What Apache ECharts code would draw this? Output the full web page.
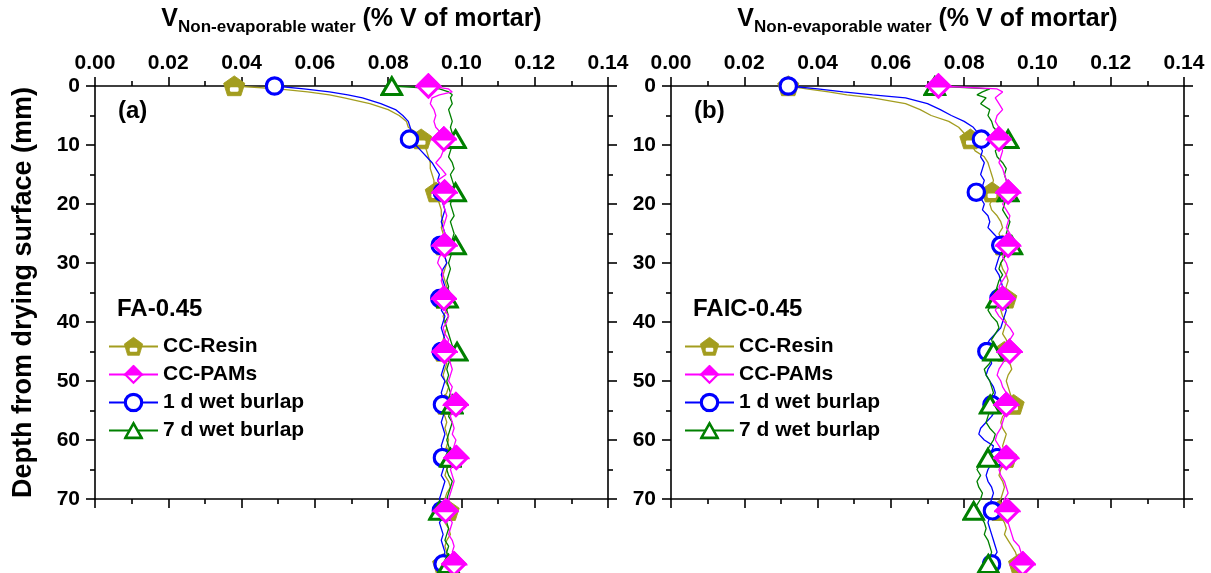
<!DOCTYPE html>
<html>
<head>
<meta charset="utf-8">
<script src="https://cdn.jsdelivr.net/npm/echarts@6/dist/echarts.min.js"></script>
<style>
  html, body { margin: 0; padding: 0; background: #fff; }
  #chart { width: 1211px; height: 573px; }
</style>
</head>
<body>
<div id="chart"></div>
<script>
// depth from drying surface (mm), shared by all profiles
const depth = [0, 0.5, 1, 1.5, 2,
  3, 4, 5, 6, 7, 8, 9,
  10, 11, 12, 13, 14, 15, 16, 17, 18,
  19, 20, 21, 22, 23, 24, 25, 26, 27,
  28, 29, 30, 31, 32, 33, 34, 35, 36,
  37, 38, 39, 40, 41, 42, 43, 44, 45,
  46, 47, 48, 49, 50, 51, 52, 53, 54,
  55, 56, 57, 58, 59, 60, 61, 62, 63,
  64, 65, 66, 67, 68, 69, 70, 71, 72,
  73, 74, 75, 76, 77, 78, 79, 80, 81];
// depths that carry a symbol
const markerDepth = [0, 9, 18, 27, 36, 45, 54, 63, 72, 81];

const seriesNames = ['CC-Resin', 'CC-PAMs', '1 d wet burlap', '7 d wet burlap'];
const panelLabels = ['(a)', '(b)'];
const mixLabels = ['FA-0.45', 'FAIC-0.45'];

// (a) FA-0.45
const resinA = [0.038, 0.050, 0.058, 0.064, 0.068,
  0.075, 0.080, 0.083, 0.085, 0.0855, 0.088, 0.089,
  0.090, 0.0905, 0.091, 0.0915, 0.0915, 0.092, 0.0925, 0.0925, 0.093,
  0.0935, 0.094, 0.0945, 0.0945, 0.095, 0.0945, 0.095, 0.0955, 0.095,
  0.0945, 0.0955, 0.096, 0.0955, 0.095, 0.0955, 0.096, 0.0955, 0.095,
  0.0955, 0.096, 0.095, 0.0955, 0.096, 0.0955, 0.095, 0.0955, 0.095,
  0.0955, 0.096, 0.0955, 0.095, 0.0955, 0.0965, 0.096, 0.095, 0.0955,
  0.0945, 0.0955, 0.096, 0.0955, 0.096, 0.0965, 0.096, 0.0955, 0.096,
  0.0965, 0.096, 0.0955, 0.0965, 0.097, 0.096, 0.0955, 0.096, 0.0965,
  0.096, 0.0955, 0.0965, 0.097, 0.096, 0.0955, 0.096, 0.0955, 0.095];
const pamsA = [0.091, 0.0965, 0.0975, 0.094, 0.092,
  0.0915, 0.0925, 0.093, 0.0925, 0.093, 0.0945, 0.0952,
  0.0965, 0.095, 0.0944, 0.093, 0.0945, 0.0958, 0.0935, 0.0945, 0.0954,
  0.0955, 0.095, 0.0955, 0.096, 0.0955, 0.095, 0.0955, 0.096, 0.0954,
  0.095, 0.094, 0.0935, 0.0945, 0.095, 0.0945, 0.095, 0.0955, 0.0952,
  0.095, 0.0955, 0.0965, 0.096, 0.095, 0.0955, 0.0965, 0.096, 0.0954,
  0.0965, 0.097, 0.0975, 0.097, 0.0965, 0.0975, 0.097, 0.0975, 0.0985,
  0.0975, 0.097, 0.0975, 0.098, 0.0975, 0.0985, 0.098, 0.0975, 0.0986,
  0.098, 0.097, 0.0975, 0.098, 0.0975, 0.097, 0.0965, 0.097, 0.0957,
  0.0965, 0.0975, 0.097, 0.0965, 0.0975, 0.098, 0.0975, 0.0985, 0.098];
const wet1A = [0.049, 0.057, 0.064, 0.069, 0.073,
  0.078, 0.082, 0.084, 0.0855, 0.086, 0.0865, 0.0858,
  0.0875, 0.089, 0.0905, 0.092, 0.093, 0.094, 0.0935, 0.0945, 0.0948,
  0.0945, 0.095, 0.0955, 0.095, 0.0945, 0.095, 0.0955, 0.095, 0.0942,
  0.095, 0.0955, 0.096, 0.095, 0.0945, 0.095, 0.0955, 0.095, 0.0941,
  0.095, 0.0945, 0.0955, 0.095, 0.0945, 0.095, 0.0955, 0.095, 0.0945,
  0.095, 0.0955, 0.095, 0.0945, 0.0955, 0.095, 0.0945, 0.095, 0.0948,
  0.0955, 0.095, 0.0945, 0.095, 0.0955, 0.095, 0.0945, 0.095, 0.0948,
  0.0955, 0.095, 0.0945, 0.0955, 0.095, 0.0945, 0.094, 0.0945, 0.0945,
  0.095, 0.094, 0.0945, 0.095, 0.0945, 0.095, 0.0955, 0.095, 0.095];
const wet7A = [0.081, 0.094, 0.0965, 0.0975, 0.097,
  0.0975, 0.0965, 0.097, 0.0975, 0.097, 0.0975, 0.0984,
  0.0975, 0.097, 0.0965, 0.0975, 0.098, 0.097, 0.0975, 0.098, 0.0984,
  0.0975, 0.097, 0.0975, 0.098, 0.097, 0.0975, 0.098, 0.0975, 0.0984,
  0.0975, 0.097, 0.0965, 0.097, 0.0965, 0.096, 0.0965, 0.096, 0.0962,
  0.0965, 0.096, 0.0965, 0.0955, 0.096, 0.0965, 0.097, 0.0975, 0.0988,
  0.0975, 0.0965, 0.096, 0.0965, 0.096, 0.0965, 0.097, 0.0965, 0.0975,
  0.097, 0.0965, 0.0975, 0.097, 0.0965, 0.096, 0.0965, 0.097, 0.097,
  0.0965, 0.096, 0.0965, 0.0975, 0.097, 0.0965, 0.096, 0.0955, 0.094,
  0.0955, 0.096, 0.0965, 0.096, 0.0955, 0.0965, 0.096, 0.0965, 0.0965];

// (b) FAIC-0.45
const resinB = [0.032, 0.037, 0.043, 0.048, 0.055,
  0.064, 0.068, 0.071, 0.0758, 0.0785, 0.080, 0.0817,
  0.082, 0.083, 0.0855, 0.0865, 0.087, 0.0875, 0.088, 0.0875, 0.0876,
  0.088, 0.087, 0.0875, 0.089, 0.090, 0.0905, 0.0895, 0.090, 0.0905,
  0.0915, 0.091, 0.090, 0.0905, 0.0915, 0.092, 0.0915, 0.091, 0.0915,
  0.0905, 0.090, 0.0905, 0.0915, 0.091, 0.0905, 0.0915, 0.092, 0.091,
  0.0915, 0.0925, 0.093, 0.092, 0.0915, 0.092, 0.0925, 0.093, 0.0935,
  0.092, 0.0905, 0.090, 0.0905, 0.0915, 0.091, 0.0905, 0.091, 0.0915,
  0.091, 0.090, 0.0895, 0.0905, 0.091, 0.0905, 0.090, 0.089, 0.0895,
  0.090, 0.091, 0.0915, 0.091, 0.092, 0.093, 0.094, 0.0945, 0.095];
const pamsB = [0.073, 0.089, 0.0905, 0.0895, 0.0885,
  0.0895, 0.0905, 0.089, 0.0885, 0.0895, 0.090, 0.0895,
  0.090, 0.0905, 0.090, 0.0895, 0.0905, 0.091, 0.0915, 0.092, 0.092,
  0.0915, 0.0905, 0.0915, 0.0925, 0.092, 0.0915, 0.0925, 0.093, 0.092,
  0.091, 0.0905, 0.0915, 0.092, 0.0915, 0.0905, 0.0895, 0.090, 0.0905,
  0.0895, 0.0885, 0.0895, 0.091, 0.0925, 0.0935, 0.0925, 0.091, 0.0924,
  0.0915, 0.0905, 0.0895, 0.089, 0.090, 0.0905, 0.0915, 0.0905, 0.0915,
  0.092, 0.091, 0.0905, 0.090, 0.089, 0.0885, 0.0895, 0.0905, 0.0915,
  0.0905, 0.0895, 0.090, 0.091, 0.0915, 0.092, 0.091, 0.0905, 0.0918,
  0.0915, 0.092, 0.0925, 0.093, 0.0935, 0.095, 0.0955, 0.096, 0.096];
const wet1B = [0.032, 0.040, 0.047, 0.055, 0.064,
  0.070, 0.0735, 0.0765, 0.080, 0.0825, 0.0838, 0.0847,
  0.084, 0.085, 0.0845, 0.0855, 0.085, 0.0845, 0.0855, 0.085, 0.0833,
  0.0845, 0.0855, 0.085, 0.0865, 0.087, 0.0865, 0.088, 0.0895, 0.090,
  0.0905, 0.0895, 0.089, 0.0885, 0.0895, 0.090, 0.0905, 0.090, 0.0895,
  0.0905, 0.0915, 0.091, 0.0905, 0.090, 0.0885, 0.087, 0.086, 0.0862,
  0.087, 0.0875, 0.0865, 0.086, 0.087, 0.088, 0.0885, 0.088, 0.0876,
  0.0885, 0.0875, 0.086, 0.0845, 0.084, 0.0855, 0.088, 0.0875, 0.089,
  0.0875, 0.0865, 0.086, 0.0865, 0.0875, 0.088, 0.0875, 0.087, 0.0877,
  0.087, 0.0865, 0.087, 0.0875, 0.088, 0.0885, 0.089, 0.088, 0.0875];
const wet7B = [0.072, 0.087, 0.085, 0.0835, 0.086,
  0.0845, 0.087, 0.0865, 0.0875, 0.088, 0.0895, 0.092,
  0.090, 0.0885, 0.089, 0.0905, 0.0915, 0.091, 0.0915, 0.092, 0.092,
  0.0915, 0.091, 0.0905, 0.0915, 0.0925, 0.092, 0.0915, 0.0925, 0.093,
  0.092, 0.091, 0.090, 0.0895, 0.0905, 0.0895, 0.089, 0.0885, 0.089,
  0.0875, 0.0865, 0.0875, 0.089, 0.0895, 0.0885, 0.0875, 0.088, 0.088,
  0.0875, 0.087, 0.0855, 0.086, 0.087, 0.0875, 0.088, 0.087, 0.0871,
  0.087, 0.0865, 0.086, 0.087, 0.0885, 0.088, 0.087, 0.086, 0.0865,
  0.0845, 0.0835, 0.0845, 0.0835, 0.084, 0.085, 0.0845, 0.0835, 0.0826,
  0.0845, 0.0855, 0.086, 0.0855, 0.0865, 0.087, 0.0875, 0.087, 0.0866];

const OLIVE = '#A39D1F';
const MAGENTA = '#FF00FF';
const BLUE = '#0000FF';
const GREEN = '#008000';
const FONT = 'Liberation Sans, Arial, sans-serif';

// markers drawn as small inline svg images (two-colour fills, thick outlines)
const svgSymbol = s => 'image://data:image/svg+xml;charset=utf-8,' + encodeURIComponent(s);
const SVG_HEAD = '<svg xmlns="http://www.w3.org/2000/svg" width="60" height="60" viewBox="0 0 100 100">';
const pentagon = svgSymbol(SVG_HEAD +
  '<path d="M50 4 L96 38 L79 94 L21 94 L4 38 Z" fill="' + OLIVE + '" stroke="' + OLIVE + '" stroke-width="4" stroke-linejoin="round"/>' +
  '<rect x="31" y="56" width="38" height="20" rx="5" fill="#fff"/></svg>');
const halfDiamond = svgSymbol(SVG_HEAD +
  '<path d="M50 9 L91 50 L50 91 L9 50 Z" fill="#fff" stroke="' + MAGENTA + '" stroke-width="11"/>' +
  '<path d="M50 9 L91 50 L9 50 Z" fill="' + MAGENTA + '" stroke="' + MAGENTA + '" stroke-width="11"/></svg>');
const openCircle = svgSymbol(SVG_HEAD +
  '<circle cx="50" cy="50" r="41" fill="#fff" stroke="' + BLUE + '" stroke-width="16"/></svg>');
const openTriangle = svgSymbol(SVG_HEAD +
  '<path d="M50 14 L91 87 L9 87 Z" fill="#fff" stroke="' + GREEN + '" stroke-width="13" stroke-linejoin="miter" stroke-miterlimit="4"/></svg>');

function points(vals) {
  return vals.map((v, i) => {
    const item = { value: [v, depth[i]] };
    if (markerDepth.indexOf(depth[i]) < 0) item.symbol = 'none';
    return item;
  });
}

function curve(name, vals, panel, color, symbol, size, z) {
  return {
    type: 'line',
    name: name,
    xAxisIndex: panel * 2,
    yAxisIndex: panel * 2,
    data: points(vals),
    symbol: symbol,
    symbolSize: size,
    showAllSymbol: true,
    clip: false,
    z: z,
    lineStyle: { color: color, width: 1.3 },
    itemStyle: { color: color },
    emphasis: { disabled: true }
  };
}

const gridLeft = [95, 671];
const gridWidth = 513;
const gridTop = 86;
const gridHeight = 413;

const lineStyle = { color: '#000', width: 1.6 };
const labelStyle = { fontFamily: FONT, fontWeight: 'bold', fontSize: 21, color: '#000' };

function xAxis(grid, pos) {
  return {
    type: 'value', gridIndex: grid, position: pos,
    min: 0, max: 0.14, interval: 0.02,
    axisLine: { show: true, onZero: false, lineStyle: lineStyle },
    axisTick: { show: true, inside: false, length: 9, lineStyle: lineStyle },
    minorTick: { show: true, splitNumber: 2, length: 5, lineStyle: lineStyle },
    splitLine: { show: false },
    axisLabel: pos === 'top'
      ? Object.assign({ show: true, margin: 12, formatter: v => v.toFixed(2), hideOverlap: false }, labelStyle)
      : { show: false }
  };
}

function yAxis(grid, pos) {
  const ax = {
    type: 'value', gridIndex: grid, position: pos,
    min: 0, max: 70, interval: 10, inverse: true,
    axisLine: { show: true, onZero: false, lineStyle: lineStyle },
    axisTick: { show: true, inside: false, length: 9, lineStyle: lineStyle },
    minorTick: { show: true, splitNumber: 2, length: 5, lineStyle: lineStyle },
    splitLine: { show: false },
    axisLabel: pos === 'left' ? Object.assign({ show: true, margin: 15 }, labelStyle) : { show: false }
  };
  if (grid === 0 && pos === 'left') {
    ax.name = 'Depth from drying surface (mm)';
    ax.nameLocation = 'middle';
    ax.nameRotate = 90;
    ax.nameGap = 58;
    ax.nameTextStyle = { fontFamily: FONT, fontWeight: 'bold', fontSize: 27, color: '#000' };
  }
  return ax;
}

const series = [];
[[resinA, wet1A, wet7A, pamsA], [resinB, wet1B, wet7B, pamsB]].forEach((set, p) => {
  series.push(curve(seriesNames[0], set[0], p, OLIVE, pentagon, [23, 22], 2));
  series.push(curve(seriesNames[2], set[1], p, BLUE, openCircle, 20, 3));
  series.push(curve(seriesNames[3], set[2], p, GREEN, openTriangle, [24, 23], 4));
  series.push(curve(seriesNames[1], set[3], p, MAGENTA, halfDiamond, 27, 5));
});

// x-axis title with a real subscript: three text pieces laid side by side
const measure = document.createElement('canvas').getContext('2d');
function textWidth(str, size) {
  measure.font = 'bold ' + size + 'px ' + FONT;
  return measure.measureText(str).width;
}
const titleMain = 'V', titleSub = 'Non-evaporable water', titleRest = ' (% V of mortar)';
const wMain = textWidth(titleMain, 25), wSub = textWidth(titleSub, 17), wRest = textWidth(titleRest, 25);

const graphics = [];
const legends = [];
gridLeft.forEach((left, p) => {
  const x0 = left + gridWidth / 2 - (wMain + wSub + wRest) / 2;
  const big = { fontFamily: FONT, fontWeight: 'bold', fontSize: 25, fill: '#000', verticalAlign: 'middle' };
  graphics.push({ type: 'text', x: x0, y: 19, style: Object.assign({ text: titleMain }, big) });
  graphics.push({ type: 'text', x: x0 + wMain, y: 27,
    style: { text: titleSub, fontFamily: FONT, fontWeight: 'bold', fontSize: 17, fill: '#000', verticalAlign: 'middle' } });
  graphics.push({ type: 'text', x: x0 + wMain + wSub, y: 19, style: Object.assign({ text: titleRest }, big) });
  graphics.push({
    type: 'text', x: left + 23, y: 111,
    style: { text: panelLabels[p], fontFamily: FONT, fontWeight: 'bold', fontSize: 24,
      fill: '#000', verticalAlign: 'middle' }
  });
  graphics.push({
    type: 'text', x: left + 22, y: 309,
    style: { text: mixLabels[p], fontFamily: FONT, fontWeight: 'bold', fontSize: 24,
      fill: '#000', verticalAlign: 'middle' }
  });
  legends.push({
    data: seriesNames,
    orient: 'vertical',
    left: left + 13, top: 336,
    itemWidth: 49, itemHeight: 25, itemGap: 7,
    selectedMode: false,
    padding: 0,
    textStyle: { fontFamily: FONT, fontWeight: 'bold', fontSize: 21, color: '#000' }
  });
});

const chart = echarts.init(document.getElementById('chart'));
chart.setOption({
  animation: false,
  backgroundColor: '#fff',
  grid: gridLeft.map(left => ({ left: left, top: gridTop, width: gridWidth, height: gridHeight, containLabel: false })),
  xAxis: [xAxis(0, 'top'), xAxis(0, 'bottom'), xAxis(1, 'top'), xAxis(1, 'bottom')],
  yAxis: [yAxis(0, 'left'), yAxis(0, 'right'), yAxis(1, 'left'), yAxis(1, 'right')],
  legend: legends,
  graphic: graphics,
  series: series
});
</script>
</body>
</html>
